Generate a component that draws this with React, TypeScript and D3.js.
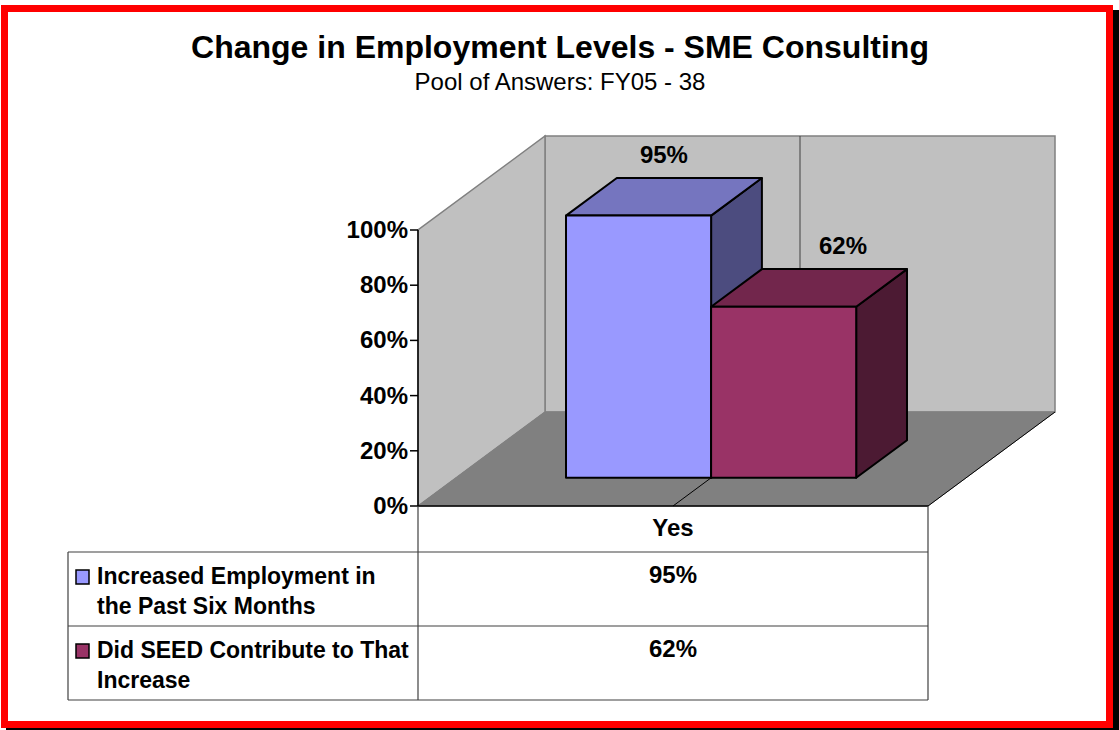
import React from 'react';
import * as d3 from 'd3';

// chart data
const titleText = 'Change in Employment Levels - SME Consulting';
const subtitleText = 'Pool of Answers: FY05 - 38';
const categories = ['Yes'];
const seriesLines = [
  ['Increased Employment in', 'the Past Six Months'],
  ['Did SEED Contribute to That', 'Increase'],
];
const seriesValues = [0.95, 0.62];
const yTicks = [0, 0.2, 0.4, 0.6, 0.8, 1];

// colours per series: front, top, side
const frontColors = ['#9999FF', '#993366'];
const topColors = ['#7575BF', '#72264C'];
const sideColors = ['#4C4C7F', '#4C1A33'];
const labelShift = [0, 34];

const W = 1119;
const H = 730;
const FONT = "'Liberation Sans', Arial, sans-serif";

// 3d box of the plot
const left = 418;
const right = 928;
const base = 506;
const top = 230;
const DX = 127;
const DY = -94;
const depthFront = 0.3;
const depthBack = 0.7;

const App = () => {
  const x = d3.scaleBand<string>().domain(categories).range([left, right]);
  const y = d3.scaleLinear().domain([0, 1]).range([base, top]);
  const fmt = d3.format('.0%');

  const cx = (x(categories[0]) as number) + x.bandwidth() / 2;
  const groupW = x.bandwidth() * 0.569;
  const xs = d3
    .scaleBand<number>()
    .domain(seriesValues.map((_, i) => i))
    .range([cx - groupW / 2, cx + groupW / 2]);

  const p = (px: number, v: number, d: number) => [px + d * DX, y(v) + d * DY];
  const pts = (arr: number[][]) => arr.map((a) => a.join(',')).join(' ');

  const floor = [p(left, 0, 0), p(right, 0, 0), p(right, 0, 1), p(left, 0, 1)];
  const leftWall = [p(left, 0, 0), p(left, 1, 0), p(left, 1, 1), p(left, 0, 1)];
  const backWall = [p(left, 0, 1), p(left, 1, 1), p(right, 1, 1), p(right, 0, 1)];

  // table
  const tLeft = 68;
  const rowTop = 552;
  const rowH = 74;
  const tBottom = rowTop + rowH * seriesValues.length;
  const lineCol = '#404040';

  return (
    <svg width={W} height={H} style={{ position: 'absolute', left: 0, top: 0 }} fontFamily={FONT}>
      {/* frame */}
      <rect x={6} y={10} width={1113} height={723} fill="#000" />
      <rect x={4.5} y={8.5} width={1105} height={716} fill="#fff" stroke="#FF0000" strokeWidth={7} />

      <text x={560} y={58} textAnchor="middle" fontSize={32} fontWeight="bold">
        {titleText}
      </text>
      <text x={560} y={90} textAnchor="middle" fontSize={24}>
        {subtitleText}
      </text>

      {/* walls */}
      <polygon points={pts(backWall)} fill="#C0C0C0" stroke="#808080" strokeWidth={1.5} />
      <polygon points={pts(leftWall)} fill="#C0C0C0" stroke="#808080" strokeWidth={1.5} />
      <polygon points={pts(floor)} fill="#808080" stroke="#808080" strokeWidth={1} />
      <line x1={p(cx, 0, 1)[0]} y1={p(cx, 0, 1)[1]} x2={p(cx, 1, 1)[0]} y2={p(cx, 1, 1)[1]} stroke="#404040" strokeWidth={1} />
      <line x1={p(cx, 0, 0)[0]} y1={p(cx, 0, 0)[1]} x2={p(cx, 0, 1)[0]} y2={p(cx, 0, 1)[1]} stroke="#000" strokeWidth={1} />
      <line x1={p(right, 0, 0)[0]} y1={p(right, 0, 0)[1]} x2={p(right, 0, 1)[0]} y2={p(right, 0, 1)[1]} stroke="#000" strokeWidth={1} />

      {/* axis */}
      <line x1={left} y1={y(0)} x2={left} y2={y(1)} stroke="#000" strokeWidth={1.5} />
      <line x1={left} y1={base} x2={right} y2={base} stroke="#000" strokeWidth={1.5} />
      {yTicks.map((t) => (
        <g key={t}>
          <line x1={left - 8} x2={left} y1={y(t)} y2={y(t)} stroke="#000" strokeWidth={1.5} />
          <text x={408} y={y(t) + 8} textAnchor="end" fontSize={24} fontWeight="bold">
            {fmt(t)}
          </text>
        </g>
      ))}

      {/* bars */}
      {seriesValues.map((v, i) => {
        const x0 = xs(i) as number;
        const x1 = x0 + xs.bandwidth();
        const front = [p(x0, v, depthFront), p(x1, v, depthFront), p(x1, 0, depthFront), p(x0, 0, depthFront)];
        const topF = [p(x0, v, depthFront), p(x1, v, depthFront), p(x1, v, depthBack), p(x0, v, depthBack)];
        const side = [p(x1, v, depthFront), p(x1, v, depthBack), p(x1, 0, depthBack), p(x1, 0, depthFront)];
        const lp = p((x0 + x1) / 2, v, (depthFront + depthBack) / 2);
        return (
          <g key={i} stroke="#000" strokeWidth={2} strokeLinejoin="round">
            <polygon points={pts(side)} fill={sideColors[i]} />
            <polygon points={pts(topF)} fill={topColors[i]} />
            <polygon points={pts(front)} fill={frontColors[i]} />
            <text
              x={lp[0] + labelShift[i]}
              y={p(x0, v, depthBack)[1] - 15}
              textAnchor="middle"
              fontSize={24}
              fontWeight="bold"
              stroke="none"
            >
              {fmt(v)}
            </text>
          </g>
        );
      })}

      {/* data table */}
      <g stroke={lineCol} strokeWidth={1.2}>
        <line x1={left} x2={left} y1={base} y2={tBottom} />
        <line x1={right} x2={right} y1={base} y2={tBottom} />
        <line x1={tLeft} x2={tLeft} y1={rowTop} y2={tBottom} />
        {seriesValues.map((_, i) => (
          <line key={i} x1={tLeft} x2={right} y1={rowTop + rowH * i} y2={rowTop + rowH * i} />
        ))}
        <line x1={tLeft} x2={right} y1={tBottom} y2={tBottom} />
      </g>
      <text x={cx} y={536} textAnchor="middle" fontSize={24} fontWeight="bold">
        {categories[0]}
      </text>
      {seriesValues.map((v, i) => {
        const ry = rowTop + rowH * i;
        return (
          <g key={i}>
            <rect x={76} y={ry + 18} width={13} height={14} fill={frontColors[i]} stroke="#000" strokeWidth={1.5} />
            {seriesLines[i].map((ln, j) => (
              <text key={j} x={97} y={ry + 32 + j * 30} fontSize={23} fontWeight="bold">
                {ln}
              </text>
            ))}
            <text x={cx} y={ry + 31} textAnchor="middle" fontSize={24} fontWeight="bold">
              {fmt(v)}
            </text>
          </g>
        );
      })}
    </svg>
  );
};

export default App;
